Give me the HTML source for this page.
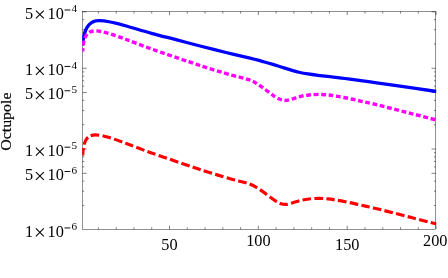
<!DOCTYPE html>
<html><head><meta charset="utf-8"><title>Octupole</title>
<style>
html,body{margin:0;padding:0;background:#fff;}
body{width:448px;height:278px;overflow:hidden;}
svg{display:block;will-change:transform;}
text{font-family:"Liberation Serif",serif;fill:#000;}
</style></head><body>
<svg width="448" height="278" viewBox="0 0 448 278">
<rect width="448" height="278" fill="#fff"/>
<rect x="82.5" y="11.5" width="353.25" height="217.85" fill="none" stroke="#000" stroke-width="0.43"/>
<path d="M98.42 229.35v-2.1 M98.42 11.5v2.1 M116.19 229.35v-2.1 M116.19 11.5v2.1 M133.96 229.35v-2.1 M133.96 11.5v2.1 M151.73 229.35v-2.1 M151.73 11.5v2.1 M169.50 229.35v-3.6 M169.50 11.5v3.6 M187.27 229.35v-2.1 M187.27 11.5v2.1 M205.04 229.35v-2.1 M205.04 11.5v2.1 M222.81 229.35v-2.1 M222.81 11.5v2.1 M240.58 229.35v-2.1 M240.58 11.5v2.1 M258.35 229.35v-3.6 M258.35 11.5v3.6 M276.12 229.35v-2.1 M276.12 11.5v2.1 M293.89 229.35v-2.1 M293.89 11.5v2.1 M311.66 229.35v-2.1 M311.66 11.5v2.1 M329.43 229.35v-2.1 M329.43 11.5v2.1 M347.20 229.35v-3.6 M347.20 11.5v3.6 M364.97 229.35v-2.1 M364.97 11.5v2.1 M382.74 229.35v-2.1 M382.74 11.5v2.1 M400.51 229.35v-2.1 M400.51 11.5v2.1 M418.28 229.35v-2.1 M418.28 11.5v2.1 M436.05 229.35v-3.6 M436.05 11.5v3.6 M82.5 205.44h1.75 M435.75 205.44h-1.75 M82.5 191.22h1.75 M435.75 191.22h-1.75 M82.5 181.13h1.75 M435.75 181.13h-1.75 M82.5 173.31h4.2 M435.75 173.31h-4.2 M82.5 166.91h1.75 M435.75 166.91h-1.75 M82.5 161.51h1.75 M435.75 161.51h-1.75 M82.5 156.83h1.75 M435.75 156.83h-1.75 M82.5 152.69h1.75 M435.75 152.69h-1.75 M82.5 149.00h4.2 M435.75 149.00h-4.2 M82.5 124.69h1.75 M435.75 124.69h-1.75 M82.5 110.47h1.75 M435.75 110.47h-1.75 M82.5 100.38h1.75 M435.75 100.38h-1.75 M82.5 92.56h4.2 M435.75 92.56h-4.2 M82.5 86.16h1.75 M435.75 86.16h-1.75 M82.5 80.76h1.75 M435.75 80.76h-1.75 M82.5 76.08h1.75 M435.75 76.08h-1.75 M82.5 71.94h1.75 M435.75 71.94h-1.75 M82.5 68.25h4.2 M435.75 68.25h-4.2 M82.5 43.94h1.75 M435.75 43.94h-1.75 M82.5 29.72h1.75 M435.75 29.72h-1.75 M82.5 19.63h1.75 M435.75 19.63h-1.75 M82.5 11.81h4.2 M435.75 11.81h-4.2" fill="none" stroke="#000" stroke-width="0.5"/>
<clipPath id="cp"><rect x="82.2" y="0" width="354.15" height="278"/></clipPath><g clip-path="url(#cp)">
<path d="M82.6 45.5C83.3 33 87 20.55 98.9 20.55C106 20.55 117.3 23.3 126.3 26.0C132.90 27.85 143.22 31.02 151.50 33.30C159.78 35.58 167.92 37.58 176.00 39.70C184.08 41.82 191.83 43.91 200.00 46.00C208.17 48.09 216.67 50.24 225.00 52.25C233.33 54.26 243.83 56.54 250.00 58.05C256.17 59.56 258.33 60.29 262.00 61.30C265.67 62.31 268.67 63.10 272.00 64.10C275.33 65.10 278.67 66.25 282.00 67.30C285.33 68.35 289.00 69.53 292.00 70.40C295.00 71.27 297.33 71.91 300.00 72.50C302.67 73.09 305.00 73.48 308.00 73.95C311.00 74.42 314.33 74.85 318.00 75.30C321.67 75.75 325.00 76.07 330.00 76.65C335.00 77.23 341.00 77.88 348.00 78.80C355.00 79.72 363.33 80.97 372.00 82.20C380.67 83.43 389.23 84.65 400.00 86.20C410.77 87.75 430.50 90.62 436.60 91.50" fill="none" stroke="#0000ff" stroke-width="3.3" stroke-linejoin="round"/>
<path d="M82.7 51.5C83.2 38 86 30.9 95.5 30.9C103 30.9 116 35.7 126.3 39.5C133.24 42.04 141.22 45.29 151.50 48.95C161.78 52.61 179.05 58.41 188.00 61.45C196.95 64.49 198.15 64.98 205.20 67.20C212.25 69.42 223.08 72.73 230.30 74.80C237.52 76.87 243.88 78.02 248.50 79.60C253.12 81.18 254.92 82.43 258.00 84.30C261.08 86.17 264.17 88.73 267.00 90.80C269.83 92.87 272.67 95.22 275.00 96.70C277.33 98.18 279.12 99.08 281.00 99.70C282.88 100.32 284.32 100.55 286.30 100.40C288.28 100.25 290.50 99.47 292.90 98.80C295.30 98.13 298.02 97.04 300.70 96.40C303.38 95.76 305.95 95.28 309.00 94.95C312.05 94.62 315.83 94.41 319.00 94.40C322.17 94.39 325.25 94.63 328.00 94.90C330.75 95.17 332.15 95.43 335.50 96.00C338.85 96.57 343.90 97.45 348.10 98.30C352.30 99.15 356.72 100.22 360.70 101.10C364.68 101.98 367.73 102.60 372.00 103.60C376.27 104.60 379.72 105.43 386.30 107.10C392.88 108.77 403.12 111.44 411.50 113.60C419.88 115.76 432.42 118.97 436.60 120.05" fill="none" stroke="#ff00ff" stroke-width="3.4" stroke-dasharray="4.8 2.67" stroke-dashoffset="1.56" stroke-linejoin="round"/>
<path transform="translate(0,104)" d="M82.7 51.5C83.2 38 86 30.9 95.5 30.9C103 30.9 116 35.7 126.3 39.5C133.24 42.04 141.22 45.29 151.50 48.95C161.78 52.61 179.05 58.41 188.00 61.45C196.95 64.49 198.15 64.98 205.20 67.20C212.25 69.42 223.08 72.73 230.30 74.80C237.52 76.87 243.88 78.02 248.50 79.60C253.12 81.18 254.92 82.43 258.00 84.30C261.08 86.17 264.17 88.73 267.00 90.80C269.83 92.87 272.67 95.22 275.00 96.70C277.33 98.18 279.12 99.08 281.00 99.70C282.88 100.32 284.32 100.55 286.30 100.40C288.28 100.25 290.50 99.47 292.90 98.80C295.30 98.13 298.02 97.04 300.70 96.40C303.38 95.76 305.95 95.28 309.00 94.95C312.05 94.62 315.83 94.41 319.00 94.40C322.17 94.39 325.25 94.63 328.00 94.90C330.75 95.17 332.15 95.43 335.50 96.00C338.85 96.57 343.90 97.45 348.10 98.30C352.30 99.15 356.72 100.22 360.70 101.10C364.68 101.98 367.73 102.60 372.00 103.60C376.27 104.60 379.72 105.43 386.30 107.10C392.88 108.77 403.12 111.44 411.50 113.60C419.88 115.76 432.42 118.97 436.60 120.05" fill="none" stroke="#ff0000" stroke-width="3.15" stroke-dasharray="8.6 3.3" stroke-dashoffset="1.2" stroke-linejoin="round"/>
</g>
<text x="25" y="18.56" font-size="16.3">5</text><path d="M35.90 10.51L43.80 18.41M43.80 10.51L35.90 18.41" stroke="#000" stroke-width="1.05" fill="none"/><text x="47.6" y="18.56" font-size="16.3">10</text><path d="M64.5 10.01h5.8" stroke="#000" stroke-width="0.95" fill="none"/><text x="71.4" y="12.26" font-size="11.2">4</text>
<text x="25" y="75.00" font-size="16.3">1</text><path d="M35.90 66.95L43.80 74.85M43.80 66.95L35.90 74.85" stroke="#000" stroke-width="1.05" fill="none"/><text x="47.6" y="75.00" font-size="16.3">10</text><path d="M64.5 66.45h5.8" stroke="#000" stroke-width="0.95" fill="none"/><text x="71.4" y="68.70" font-size="11.2">4</text>
<text x="25" y="99.31" font-size="16.3">5</text><path d="M35.90 91.26L43.80 99.16M43.80 91.26L35.90 99.16" stroke="#000" stroke-width="1.05" fill="none"/><text x="47.6" y="99.31" font-size="16.3">10</text><path d="M64.5 90.76h5.8" stroke="#000" stroke-width="0.95" fill="none"/><text x="71.4" y="93.01" font-size="11.2">5</text>
<text x="25" y="155.75" font-size="16.3">1</text><path d="M35.90 147.70L43.80 155.60M43.80 147.70L35.90 155.60" stroke="#000" stroke-width="1.05" fill="none"/><text x="47.6" y="155.75" font-size="16.3">10</text><path d="M64.5 147.20h5.8" stroke="#000" stroke-width="0.95" fill="none"/><text x="71.4" y="149.45" font-size="11.2">5</text>
<text x="25" y="180.06" font-size="16.3">5</text><path d="M35.90 172.01L43.80 179.91M43.80 172.01L35.90 179.91" stroke="#000" stroke-width="1.05" fill="none"/><text x="47.6" y="180.06" font-size="16.3">10</text><path d="M64.5 171.51h5.8" stroke="#000" stroke-width="0.95" fill="none"/><text x="71.4" y="173.76" font-size="11.2">6</text>
<text x="25" y="236.50" font-size="16.3">1</text><path d="M35.90 228.45L43.80 236.35M43.80 228.45L35.90 236.35" stroke="#000" stroke-width="1.05" fill="none"/><text x="47.6" y="236.50" font-size="16.3">10</text><path d="M64.5 227.95h5.8" stroke="#000" stroke-width="0.95" fill="none"/><text x="71.4" y="230.20" font-size="11.2">6</text>
<text x="169.50" y="249.7" font-size="16.3" text-anchor="middle">50</text>
<text x="258.35" y="245.9" font-size="16.3" text-anchor="middle">100</text>
<text x="347.20" y="250.0" font-size="16.3" text-anchor="middle">150</text>
<text x="435.20" y="245.9" font-size="16.3" text-anchor="middle">200</text>
<text transform="translate(11,150.8) rotate(-90)" font-size="14.4" stroke="#000" stroke-width="0.18" textLength="58.3" lengthAdjust="spacingAndGlyphs">Octupole</text>
</svg>
</body></html>
